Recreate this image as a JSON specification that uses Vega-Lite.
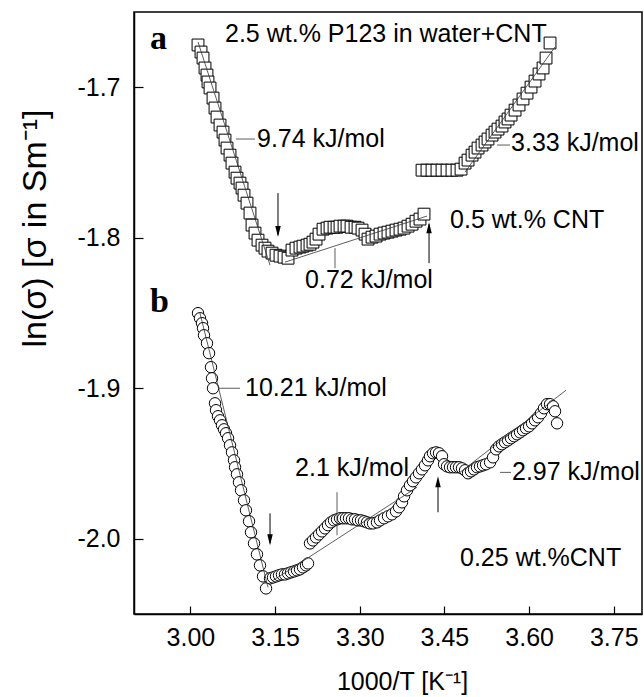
{
  "$schema": "https://vega.github.io/schema/vega-lite/v6.json",
  "width": 508,
  "height": 602,
  "autosize": {"type": "none"},
  "padding": {"left": 134, "top": 12, "right": 2, "bottom": 83},
  "config": {
    "font": "Liberation Sans",
    "view": {"stroke": "black", "strokeWidth": 1.5},
    "axis": {"domainColor": "black", "domainWidth": 1.5, "tickColor": "black", "tickWidth": 1.2, "labelColor": "black", "titleColor": "black", "labelFontSize": 25, "titleFontWeight": "normal", "grid": false}
  },
  "datasets": {
    "sq": [
      {"x":3.0134,"y":-1.6719},{"x":3.0187,"y":-1.6766},{"x":3.0223,"y":-1.6806},{"x":3.0258,"y":-1.6872},{"x":3.0293,"y":-1.6919},{"x":3.0311,"y":-1.6965},{"x":3.0347,"y":-1.7005},{"x":3.0400,"y":-1.7072},{"x":3.0435,"y":-1.7138},{"x":3.0471,"y":-1.7198},{"x":3.0524,"y":-1.7251},{"x":3.0577,"y":-1.7298},{"x":3.0612,"y":-1.7351},{"x":3.0648,"y":-1.7404},{"x":3.0701,"y":-1.7451},{"x":3.0736,"y":-1.7504},{"x":3.0790,"y":-1.7564},{"x":3.0825,"y":-1.7604},{"x":3.0878,"y":-1.7637},{"x":3.0914,"y":-1.7670},{"x":3.0949,"y":-1.7717},{"x":3.1002,"y":-1.7770},{"x":3.1055,"y":-1.7836},{"x":3.1091,"y":-1.7916},{"x":3.1144,"y":-1.7969},{"x":3.1197,"y":-1.8016},{"x":3.1268,"y":-1.8049},{"x":3.1321,"y":-1.8069},{"x":3.1374,"y":-1.8089},{"x":3.1445,"y":-1.8102},{"x":3.1516,"y":-1.8116},{"x":3.1587,"y":-1.8122},{"x":3.1658,"y":-1.8129},{"x":3.1729,"y":-1.8136},
      {"x":3.1799,"y":-1.8082},{"x":3.1870,"y":-1.8069},{"x":3.1941,"y":-1.8062},{"x":3.1994,"y":-1.8056},{"x":3.2065,"y":-1.8049},{"x":3.2118,"y":-1.8043},{"x":3.2171,"y":-1.8029},{"x":3.2225,"y":-1.8009},{"x":3.2278,"y":-1.7976},{"x":3.2349,"y":-1.7943},{"x":3.2420,"y":-1.7936},{"x":3.2473,"y":-1.7930},{"x":3.2544,"y":-1.7930},{"x":3.2597,"y":-1.7930},{"x":3.2650,"y":-1.7923},{"x":3.2721,"y":-1.7923},{"x":3.2774,"y":-1.7923},{"x":3.2845,"y":-1.7930},{"x":3.2916,"y":-1.7930},{"x":3.2969,"y":-1.7936},{"x":3.3040,"y":-1.7949},{"x":3.3093,"y":-1.7976},{"x":3.3146,"y":-1.8009},{"x":3.3217,"y":-1.7996},{"x":3.3288,"y":-1.7989},{"x":3.3359,"y":-1.7976},{"x":3.3430,"y":-1.7969},{"x":3.3500,"y":-1.7963},{"x":3.3571,"y":-1.7956},{"x":3.3642,"y":-1.7949},{"x":3.3713,"y":-1.7943},{"x":3.3784,"y":-1.7936},{"x":3.3855,"y":-1.7923},{"x":3.3926,"y":-1.7910},{"x":3.3996,"y":-1.7890},{"x":3.4067,"y":-1.7876},{"x":3.4138,"y":-1.7843},
      {"x":3.4103,"y":-1.7551},{"x":3.4191,"y":-1.7551},{"x":3.4280,"y":-1.7551},{"x":3.4368,"y":-1.7551},{"x":3.4457,"y":-1.7551},{"x":3.4546,"y":-1.7551},{"x":3.4634,"y":-1.7551},{"x":3.4723,"y":-1.7551},{"x":3.4794,"y":-1.7544},{"x":3.4865,"y":-1.7504},{"x":3.4918,"y":-1.7484},{"x":3.4989,"y":-1.7451},{"x":3.5042,"y":-1.7431},{"x":3.5095,"y":-1.7404},{"x":3.5166,"y":-1.7384},{"x":3.5219,"y":-1.7364},{"x":3.5272,"y":-1.7344},{"x":3.5343,"y":-1.7318},{"x":3.5396,"y":-1.7298},{"x":3.5449,"y":-1.7278},{"x":3.5520,"y":-1.7258},{"x":3.5573,"y":-1.7231},{"x":3.5627,"y":-1.7211},{"x":3.5680,"y":-1.7185},{"x":3.5751,"y":-1.7152},{"x":3.5821,"y":-1.7118},{"x":3.5892,"y":-1.7078},{"x":3.5963,"y":-1.7039},{"x":3.6034,"y":-1.6999},{"x":3.6105,"y":-1.6959},{"x":3.6176,"y":-1.6912},{"x":3.6247,"y":-1.6872},{"x":3.6300,"y":-1.6806},{"x":3.6371,"y":-1.6706}
    ],
    "ci": [
      {"x":3.0134,"y":-1.8501},{"x":3.0169,"y":-1.8535},{"x":3.0205,"y":-1.8568},{"x":3.0223,"y":-1.8601},{"x":3.0240,"y":-1.8648},{"x":3.0293,"y":-1.8701},{"x":3.0329,"y":-1.8767},{"x":3.0364,"y":-1.8860},{"x":3.0382,"y":-1.8934},{"x":3.0400,"y":-1.9000},{"x":3.0435,"y":-1.9100},{"x":3.0453,"y":-1.9146},{"x":3.0488,"y":-1.9186},{"x":3.0524,"y":-1.9213},{"x":3.0559,"y":-1.9246},{"x":3.0595,"y":-1.9273},{"x":3.0630,"y":-1.9299},{"x":3.0666,"y":-1.9332},{"x":3.0701,"y":-1.9379},{"x":3.0736,"y":-1.9426},{"x":3.0772,"y":-1.9479},{"x":3.0790,"y":-1.9525},{"x":3.0825,"y":-1.9572},{"x":3.0860,"y":-1.9625},{"x":3.0896,"y":-1.9678},{"x":3.0949,"y":-1.9745},{"x":3.0984,"y":-1.9811},{"x":3.1038,"y":-1.9884},{"x":3.1073,"y":-1.9957},{"x":3.1126,"y":-2.0031},{"x":3.1179,"y":-2.0104},{"x":3.1232,"y":-2.0177},{"x":3.1286,"y":-2.0250},{"x":3.1339,"y":-2.0330},
      {"x":3.1410,"y":-2.0263},{"x":3.1463,"y":-2.0257},{"x":3.1516,"y":-2.0250},{"x":3.1569,"y":-2.0243},{"x":3.1622,"y":-2.0237},{"x":3.1675,"y":-2.0237},{"x":3.1729,"y":-2.0230},{"x":3.1782,"y":-2.0223},{"x":3.1835,"y":-2.0217},{"x":3.1888,"y":-2.0210},{"x":3.1941,"y":-2.0203},{"x":3.1994,"y":-2.0190},{"x":3.2047,"y":-2.0177},{"x":3.2083,"y":-2.0164},
      {"x":3.2118,"y":-2.0031},{"x":3.2171,"y":-2.0011},{"x":3.2225,"y":-1.9991},{"x":3.2278,"y":-1.9971},{"x":3.2331,"y":-1.9951},{"x":3.2384,"y":-1.9931},{"x":3.2437,"y":-1.9910},{"x":3.2490,"y":-1.9891},{"x":3.2544,"y":-1.9878},{"x":3.2597,"y":-1.9871},{"x":3.2650,"y":-1.9864},{"x":3.2703,"y":-1.9864},{"x":3.2756,"y":-1.9864},{"x":3.2809,"y":-1.9864},{"x":3.2862,"y":-1.9871},{"x":3.2916,"y":-1.9871},{"x":3.2969,"y":-1.9878},{"x":3.3022,"y":-1.9878},{"x":3.3075,"y":-1.9884},{"x":3.3128,"y":-1.9891},{"x":3.3181,"y":-1.9898},{"x":3.3235,"y":-1.9898},{"x":3.3305,"y":-1.9891},{"x":3.3359,"y":-1.9878},{"x":3.3430,"y":-1.9864},{"x":3.3500,"y":-1.9851},{"x":3.3571,"y":-1.9838},{"x":3.3642,"y":-1.9818},{"x":3.3695,"y":-1.9791},{"x":3.3748,"y":-1.9758},{"x":3.3784,"y":-1.9718},{"x":3.3837,"y":-1.9678},{"x":3.3890,"y":-1.9645},{"x":3.3943,"y":-1.9618},{"x":3.3996,"y":-1.9592},{"x":3.4050,"y":-1.9565},{"x":3.4103,"y":-1.9539},{"x":3.4156,"y":-1.9512},{"x":3.4209,"y":-1.9479},{"x":3.4244,"y":-1.9452},{"x":3.4298,"y":-1.9432},{"x":3.4351,"y":-1.9426},{"x":3.4404,"y":-1.9432},{"x":3.4457,"y":-1.9452},
      {"x":3.4493,"y":-1.9505},{"x":3.4546,"y":-1.9519},{"x":3.4599,"y":-1.9525},{"x":3.4652,"y":-1.9525},{"x":3.4705,"y":-1.9525},{"x":3.4758,"y":-1.9525},{"x":3.4811,"y":-1.9532},{"x":3.4865,"y":-1.9545},{"x":3.4918,"y":-1.9565},{"x":3.4971,"y":-1.9552},{"x":3.5024,"y":-1.9539},{"x":3.5077,"y":-1.9525},{"x":3.5130,"y":-1.9519},{"x":3.5184,"y":-1.9512},{"x":3.5237,"y":-1.9505},{"x":3.5308,"y":-1.9492},{"x":3.5361,"y":-1.9459},{"x":3.5414,"y":-1.9406},{"x":3.5467,"y":-1.9386},{"x":3.5520,"y":-1.9372},{"x":3.5573,"y":-1.9359},{"x":3.5627,"y":-1.9346},{"x":3.5680,"y":-1.9332},{"x":3.5733,"y":-1.9319},{"x":3.5786,"y":-1.9306},{"x":3.5839,"y":-1.9293},{"x":3.5892,"y":-1.9279},{"x":3.5945,"y":-1.9266},{"x":3.5999,"y":-1.9253},{"x":3.6052,"y":-1.9233},{"x":3.6105,"y":-1.9213},{"x":3.6158,"y":-1.9193},{"x":3.6211,"y":-1.9166},{"x":3.6264,"y":-1.9133},{"x":3.6317,"y":-1.9106},{"x":3.6371,"y":-1.9106},{"x":3.6424,"y":-1.9120},{"x":3.6459,"y":-1.9153},{"x":3.6495,"y":-1.9233}
    ],
    "lines": [
      {"x":3.0134,"y":-1.6699,"x2":3.1410,"y2":-1.8182},
      {"x":3.1675,"y":-1.8162,"x2":3.4191,"y2":-1.7856},
      {"x":3.4865,"y":-1.7564,"x2":3.6459,"y2":-1.6732},
      {"x":3.0169,"y":-1.8501,"x2":3.1374,"y2":-2.0323},
      {"x":3.1463,"y":-2.0277,"x2":3.4014,"y2":-1.9658},
      {"x":3.4776,"y":-1.9559,"x2":3.6654,"y2":-1.9013},
      {"x":3.0807,"y":-1.7344,"x2":3.1144,"y2":-1.7344},
      {"x":3.5432,"y":-1.7384,"x2":3.5662,"y2":-1.7384},
      {"x":3.2561,"y":-1.8069,"x2":3.2561,"y2":-1.8202},
      {"x":3.0506,"y":-1.9000,"x2":3.0878,"y2":-1.9000},
      {"x":3.2597,"y":-1.9691,"x2":3.2597,"y2":-1.9977},
      {"x":3.5485,"y":-1.9559,"x2":3.5680,"y2":-1.9559}
    ],
    "arrows": [
      {"x":3.1551,"y":-1.7703,"y2":-1.7980,"dir":"down","hy":-1.7959},
      {"x":3.4227,"y":-1.8169,"y2":-1.7910,"dir":"up","hy":-1.7933},
      {"x":3.1410,"y":-1.9831,"y2":-2.0030,"dir":"down","hy":-2.0007},
      {"x":3.4386,"y":-1.9824,"y2":-1.9640,"dir":"up","hy":-1.9622}
    ],
    "labels": [
      {"x":3.0612,"y":-1.6643,"text":"2.5 wt.% P123 in water+CNT"},
      {"x":3.1179,"y":-1.7344,"text":"9.74 kJ/mol"},
      {"x":3.5680,"y":-1.7371,"text":"3.33 kJ/mol"},
      {"x":3.4599,"y":-1.7883,"text":"0.5 wt.% CNT"},
      {"x":3.2030,"y":-1.8282,"text":"0.72 kJ/mol"},
      {"x":3.0967,"y":-1.9000,"text":"10.21 kJ/mol"},
      {"x":3.1853,"y":-1.9532,"text":"2.1 kJ/mol"},
      {"x":3.5697,"y":-1.9559,"text":"2.97 kJ/mol"},
      {"x":3.4776,"y":-2.0130,"text":"0.25 wt.%CNT"}
    ],
    "panels": [
      {"x":2.9283,"y":-1.6746,"text":"a"},
      {"x":2.9283,"y":-1.8495,"text":"b"}
    ]
  },
  "layer": [
    {
      "data": {"name": "sq"},
      "mark": {"type": "point", "shape": "square", "filled": true, "fill": "white", "stroke": "black", "strokeWidth": 1, "size": 140, "opacity": 1},
      "encoding": {
        "x": {"field": "x", "type": "quantitative", "scale": {"domain": [2.9, 3.8], "nice": false, "zero": false},
              "axis": {"values": [3.0, 3.15, 3.3, 3.45, 3.6, 3.75], "format": ".2f", "tickSize": -8, "labelPadding": 19, "title": "1000/T [K⁻¹]", "titleFontSize": 25, "titleX": 268, "titleY": 75, "titleBaseline": "alphabetic", "titleAlign": "center"}},
        "y": {"field": "y", "type": "quantitative", "scale": {"domain": [-2.05, -1.65], "nice": false, "zero": false},
              "axis": {"values": [-1.7, -1.8, -1.9, -2.0], "format": ".1f", "labelExpr": "replace(datum.label, '−', '-')", "tickSize": -9, "labelPadding": 23, "title": "ln(σ) [σ in Sm⁻¹]", "titleFontSize": 34, "titleX": -99, "titleY": 216, "titleBaseline": "middle", "titleAlign": "center", "titleAngle": -90}}
      }
    },
    {
      "data": {"name": "ci"},
      "mark": {"type": "point", "shape": "circle", "filled": true, "fill": "white", "stroke": "black", "strokeWidth": 1, "size": 130, "opacity": 1},
      "encoding": {
        "x": {"field": "x", "type": "quantitative"},
        "y": {"field": "y", "type": "quantitative"}
      }
    },
    {
      "data": {"name": "lines"},
      "mark": {"type": "rule", "color": "#333333", "strokeWidth": 0.8},
      "encoding": {
        "x": {"field": "x", "type": "quantitative"},
        "y": {"field": "y", "type": "quantitative"},
        "x2": {"field": "x2"},
        "y2": {"field": "y2"}
      }
    },
    {
      "data": {"name": "arrows"},
      "mark": {"type": "rule", "color": "black", "strokeWidth": 1},
      "encoding": {
        "x": {"field": "x", "type": "quantitative"},
        "y": {"field": "y", "type": "quantitative"},
        "y2": {"field": "y2"}
      }
    },
    {
      "data": {"name": "arrows"},
      "transform": [{"filter": "datum.dir == 'down'"}],
      "mark": {"type": "point", "shape": "M-0.5,-1L0.5,-1L0,1Z", "filled": true, "color": "black", "size": 121, "opacity": 1},
      "encoding": {
        "x": {"field": "x", "type": "quantitative"},
        "y": {"field": "hy", "type": "quantitative"}
      }
    },
    {
      "data": {"name": "arrows"},
      "transform": [{"filter": "datum.dir == 'up'"}],
      "mark": {"type": "point", "shape": "M-0.5,1L0.5,1L0,-1Z", "filled": true, "color": "black", "size": 121, "opacity": 1},
      "encoding": {
        "x": {"field": "x", "type": "quantitative"},
        "y": {"field": "hy", "type": "quantitative"}
      }
    },
    {
      "data": {"name": "labels"},
      "mark": {"type": "text", "align": "left", "baseline": "middle", "fontSize": 25, "color": "black"},
      "encoding": {
        "x": {"field": "x", "type": "quantitative"},
        "y": {"field": "y", "type": "quantitative"},
        "text": {"field": "text"}
      }
    },
    {
      "data": {"name": "panels"},
      "mark": {"type": "text", "align": "left", "baseline": "alphabetic", "fontSize": 34, "font": "Liberation Serif", "fontWeight": "bold", "color": "black"},
      "encoding": {
        "x": {"field": "x", "type": "quantitative"},
        "y": {"field": "y", "type": "quantitative"},
        "text": {"field": "text"}
      }
    }
  ]
}
